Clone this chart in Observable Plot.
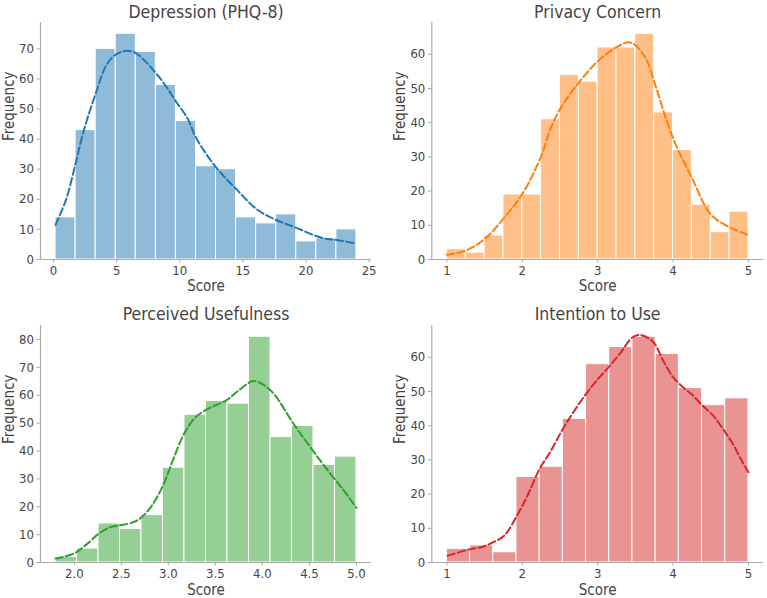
<!DOCTYPE html>
<html>
<head>
<meta charset="utf-8">
<script src="https://cdn.jsdelivr.net/npm/d3@7"></script>
<script src="https://cdn.jsdelivr.net/npm/@observablehq/plot@0.6"></script>
<style>
  html, body { margin: 0; padding: 0; background: #fff; }
  #grid { position: relative; width: 767px; height: 598px; }
  #grid > div { position: absolute; }
</style>
</head>
<body>
<div id="grid"></div>
<script>
// ---- Depression (PHQ-8) ----
const depressionRange = [0.16, 24];
const depressionCounts = [14, 43, 70, 75, 69, 58, 46, 31, 30, 14, 12, 15, 6, 7, 10];
const depressionKde = [
  [0.16, 11.5], [1.0, 20], [1.73, 31.6], [2.38, 42.6], [3.33, 55], [4.2, 64.7], [4.9, 68],
  [5.7, 69.3], [6.5, 68.6], [8.1, 62], [9.0, 57], [9.7, 52.5], [10.6, 47], [11.3, 40.4],
  [12.9, 30.5], [14.5, 23.3], [16.1, 16.7], [17.6, 13.2], [19.2, 10.6], [20.8, 7.8],
  [21.7, 6.8], [22.4, 6.5], [24.0, 5.3]
];
const depressionTicks = [0, 5, 10, 15, 20, 25];
const depressionYTicks = [0, 10, 20, 30, 40, 50, 60, 70];

// ---- Privacy Concern ----
const privacyRange = [1, 5];
const privacyCounts = [3, 2, 7, 19, 19, 41, 54, 52, 62, 62, 66, 43, 32, 16, 8, 14];
const privacyKde = [
  [1.0, 1.4], [1.26, 2.7], [1.51, 6.2], [1.76, 12.2], [2.01, 19.5], [2.26, 30.7], [2.37, 38],
  [2.51, 44.3], [2.76, 52], [3.0, 57.9], [3.26, 62.2], [3.41, 63.5], [3.5, 62.7], [3.65, 58.3],
  [3.75, 52], [4.0, 35.5], [4.25, 23.9], [4.5, 13.2], [4.76, 9.3], [5.0, 7.2]
];
const privacyTicks = [1, 2, 3, 4, 5];
const privacyYTicks = [0, 10, 20, 30, 40, 50, 60];

// ---- Perceived Usefulness ----
const usefulnessRange = [1.8, 5];
const usefulnessCounts = [2, 5, 14, 12, 17, 34, 53, 58, 57, 81, 45, 49, 35, 38];
const usefulnessKde = [
  [1.8, 1.4], [2.0, 3.3], [2.13, 6.5], [2.25, 10.1], [2.38, 12.7], [2.48, 13.3], [2.63, 14.5],
  [2.71, 16.1], [2.82, 20.2], [2.94, 27.4], [3.05, 36.9], [3.17, 46.4], [3.28, 51.8],
  [3.4, 54.8], [3.62, 58.3], [3.76, 62.1], [3.9, 65.1], [4.0, 64], [4.12, 60.6],
  [4.33, 49.8], [4.51, 41.4], [4.65, 35], [4.85, 26.5], [5.0, 19.6]
];
const usefulnessTicks = [2.0, 2.5, 3.0, 3.5, 4.0, 4.5, 5.0];
const usefulnessYTicks = [0, 10, 20, 30, 40, 50, 60, 70, 80];

// ---- Intention to Use ----
const intentionRange = [1, 5];
const intentionCounts = [4, 5, 3, 25, 28, 42, 58, 63, 66, 61, 51, 46, 48];
const intentionKde = [
  [1.01, 2], [1.31, 3.9], [1.49, 4.7], [1.63, 6.1], [1.76, 7.8], [1.93, 13.7], [2.07, 19.6],
  [2.23, 27.4], [2.37, 32.3], [2.54, 39.1], [2.68, 44], [2.85, 49.4], [2.99, 53.3],
  [3.15, 57.2], [3.3, 61.2], [3.46, 65.8], [3.56, 66.5], [3.73, 64.7], [3.87, 59],
  [4.0, 54.2], [4.13, 51.3], [4.26, 48.9], [4.39, 45.9], [4.53, 43], [4.66, 39.1],
  [4.79, 34.8], [4.92, 29.4], [5.0, 26.4]
];
const intentionTicks = [1, 2, 3, 4, 5];
const intentionYTicks = [0, 10, 20, 30, 40, 50, 60];

// Panel layout: position of each SVG plus the frame margins inside it
const panels = [
  {title: "Depression (PHQ-8)", range: depressionRange, counts: depressionCounts, kde: depressionKde,
   xticks: depressionTicks, yticks: depressionYTicks, fmt: d3.format("d"), color: "#1f77b4",
   left: 0, top: 0, ml: 40, mr: 12, mt: 22, mb: 40, yLabelX: 8.3, titleDy: -10.3, scoreDy: 27},
  {title: "Privacy Concern", range: privacyRange, counts: privacyCounts, kde: privacyKde,
   xticks: privacyTicks, yticks: privacyYTicks, fmt: d3.format("d"), color: "#ff7f0e",
   left: 383, top: 0, ml: 48.3, mr: 4, mt: 22, mb: 40, yLabelX: 16.7, titleDy: -10.3, scoreDy: 27},
  {title: "Perceived Usefulness", range: usefulnessRange, counts: usefulnessCounts, kde: usefulnessKde,
   xticks: usefulnessTicks, yticks: usefulnessYTicks, fmt: d3.format(".1f"), color: "#2ca02c",
   left: 0, top: 299, ml: 40, mr: 12, mt: 26, mb: 36, yLabelX: 8.3, titleDy: -11, scoreDy: 27.4},
  {title: "Intention to Use", range: intentionRange, counts: intentionCounts, kde: intentionKde,
   xticks: intentionTicks, yticks: intentionYTicks, fmt: d3.format("d"), color: "#d62728",
   left: 383, top: 299, ml: 48.3, mr: 4, mt: 26, mb: 36, yLabelX: 16.7, titleDy: -11, scoreDy: 27.4}
];

const spine = "#aaaaaa";
const ink = "#444444";
const font = "'DejaVu Sans Condensed', 'DejaVu Sans', sans-serif";
const grid = document.getElementById("grid");

for (const p of panels) {
  const [lo, hi] = p.range;
  const n = p.counts.length;
  const w = (hi - lo) / n;
  const bins = p.counts.map((c, i) => ({x1: lo + i * w, x2: lo + (i + 1) * w, count: c}));
  const pad = (hi - lo) * 0.05;
  const ymax = d3.max(p.counts) * 1.05;

  const chart = Plot.plot({
    width: 383 + (p.left ? 1 : 0),
    height: 299,
    marginLeft: p.ml,
    marginRight: p.mr,
    marginTop: p.mt,
    marginBottom: p.mb,
    style: {fontFamily: font, fontSize: "13px", color: ink, background: "transparent", overflow: "visible"},
    x: {domain: [lo - pad, hi + pad], label: null},
    y: {domain: [0, ymax], label: null},
    marks: [
      Plot.rectY(bins, {x1: "x1", x2: "x2", y: "count", fill: p.color, fillOpacity: 0.5,
                        stroke: "white", strokeWidth: 1, insetLeft: 0, insetRight: 0}),
      Plot.line(p.kde, {x: d => d[0], y: d => d[1], stroke: p.color, strokeWidth: 2,
                        strokeDasharray: "7.4,3.2", curve: "catmull-rom"}),
      Plot.ruleY([0], {stroke: spine, strokeWidth: 1.2}),
      Plot.ruleX([lo - pad], {stroke: spine, strokeWidth: 1.2}),
      Plot.axisX({ticks: p.xticks, tickFormat: p.fmt, tickSize: 3.5, tickPadding: 3,
                  stroke: spine, fill: ink, label: null}),
      Plot.axisY({ticks: p.yticks, tickFormat: "d", tickSize: 3.5, tickPadding: 3,
                  stroke: spine, fill: ink, label: null}),
      Plot.text([p.title], {frameAnchor: "top", dy: p.titleDy, fontSize: 17.5, fill: ink, lineAnchor: "middle"}),
      Plot.text(["Score"], {frameAnchor: "bottom", dy: p.scoreDy, fontSize: 15, fill: ink, lineAnchor: "middle"}),
      Plot.text(["Frequency"], {frameAnchor: "left", dx: p.yLabelX - p.ml, rotate: -90,
                                fontSize: 15, fill: ink, lineAnchor: "middle"})
    ]
  });

  const holder = document.createElement("div");
  holder.style.left = p.left + "px";
  holder.style.top = p.top + "px";
  holder.appendChild(chart);
  grid.appendChild(holder);
}
</script>
</body>
</html>
